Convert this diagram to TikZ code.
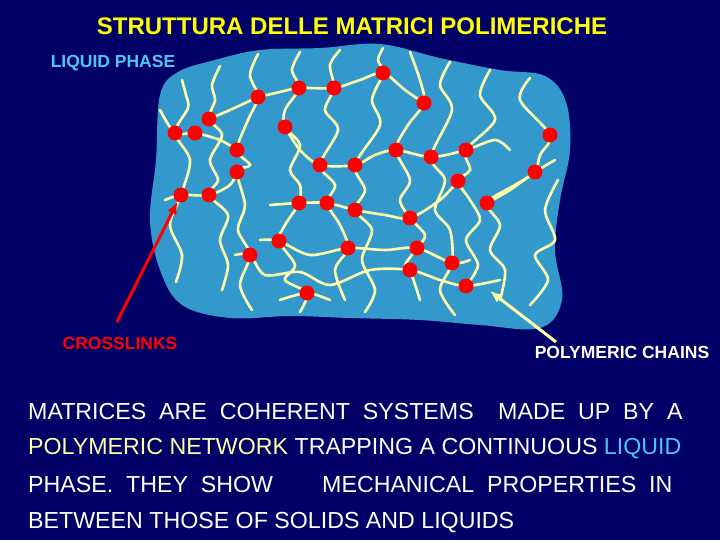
\documentclass[tikz,border=0pt]{standalone}
\usepackage{fontspec}
\usetikzlibrary{arrows.meta}
\setmainfont{Liberation Sans}
\begin{document}
\begin{tikzpicture}[x=1pt,y=-1pt,
  chain/.style={draw={rgb,255:red,255;green,255;blue,170},line width=2.6pt,line cap=round},
  xl/.style={circle,fill=red,inner sep=0pt,minimum size=15pt},
  body/.style={text=white,font=\fontsize{23.2}{25}\selectfont,anchor=base west,inner sep=0pt}]
\definecolor{bg}{RGB}{0,0,102}
\definecolor{blob}{RGB}{51,153,204}
\definecolor{cream}{RGB}{255,255,170}
\fill[bg] (0,0) rectangle (720,540);
\useasboundingbox (0,0) rectangle (720,540);
\node[text={rgb,255:red,255;green,255;blue,0},font=\bfseries\fontsize{24}{26}\selectfont] (title) at (352,26) {STRUTTURA DELLE MATRICI POLIMERICHE};
\node[text=cyan!70!white,font=\bfseries\fontsize{17.5}{19}\selectfont] (lp) at (113,63) {LIQUID PHASE};
\fill[blob] plot[smooth cycle,tension=0.6] coordinates {(160,95)(178,72)(215,60)(260,50)(320,48)(380,44)(440,58)(500,70)(545,76)(566,102)(570,150)(560,200)(555,250)(562,300)(540,328)(480,325)(420,320)(350,318)(290,316)(230,318)(182,305)(160,270)(150,220)(156,160)};
\begin{scope}[chain]
\draw plot[smooth] coordinates {(182,80)(186,95)(188,108)(175,133)(190,160)(181,195)(170,225)(182,255)(176,282)};
\draw plot[smooth] coordinates {(220,66)(212,85)(215,100)(209,119)(222,135)(210,160)(218,180)(209,195)(228,215)(220,240)(228,265)(222,290)};
\draw plot[smooth] coordinates {(258,54)(250,75)(258,97)(248,120)(237,150)(250,165)(237,172)(245,205)(238,230)(250,255)(240,285)(252,310)};
\draw plot[smooth] coordinates {(300,52)(292,70)(299,88)(285,110)(285,127)(300,145)(290,170)(300,185)(299,203)(285,225)(279,241)(295,265)(285,280)(307,293)(300,312)};
\draw plot[smooth] coordinates {(340,50)(330,65)(334,88)(325,110)(338,130)(320,165)(335,185)(327,203)(340,225)(348,248)(335,270)(345,300)};
\draw plot[smooth] coordinates {(383,48)(378,60)(383,73)(372,100)(380,125)(355,165)(365,190)(355,210)(372,230)(362,260)(375,290)(365,312)};
\draw plot[smooth] coordinates {(410,52)(420,80)(424,103)(408,125)(396,150)(410,180)(400,200)(410,218)(425,235)(417,248)(405,265)(410,270)(420,300)};
\draw plot[smooth] coordinates {(450,62)(440,85)(452,110)(431,157)(445,180)(435,210)(450,230)(452,263)(440,290)(455,315)};
\draw plot[smooth] coordinates {(490,70)(480,95)(495,120)(466,150)(470,170)(458,181)(470,200)(480,220)(466,240)(478,265)(466,286)};
\draw plot[smooth] coordinates {(530,78)(520,100)(550,135)(540,155)(535,172)(515,185)(487,203)(500,225)(490,250)(505,270)(500,300)};
\draw plot[smooth] coordinates {(558,180)(545,210)(555,240)(535,255)(548,280)(530,305)};
\draw plot[smooth] coordinates {(160,110)(175,133)(195,133)(220,140)(237,150)};
\draw plot[smooth] coordinates {(165,200)(181,195)(209,195)(230,185)(237,172)};
\draw plot[smooth] coordinates {(258,97)(280,92)(299,88)(334,88)(360,80)(383,73)(405,90)(424,103)};
\draw plot[smooth] coordinates {(285,127)(300,150)(320,165)(355,165)(375,155)(396,150)(431,157)(466,150)(495,140)(510,150)};
\draw plot[smooth] coordinates {(270,205)(299,203)(327,203)(355,210)(385,215)(410,218)(440,200)(458,181)};
\draw plot[smooth] coordinates {(260,240)(279,241)(310,255)(348,248)(385,250)(417,248)(452,263)(470,260)};
\draw plot[smooth] coordinates {(235,255)(250,255)(265,275)(300,272)(330,285)(370,270)(410,270)(440,280)(466,286)(500,280)};
\draw plot[smooth] coordinates {(209,119)(230,110)(258,97)};
\draw plot[smooth] coordinates {(487,203)(510,190)(535,172)(555,160)};
\draw plot[smooth] coordinates {(280,300)(307,293)(330,300)};
\end{scope}
\foreach \p [count=\i] in {(383,73),(299,88),(334,88),(258,97),(424,103),(209,119),(175,133),(195,133),(285,127),(237,150),(550,135),(396,150),(431,157),(466,150),(237,172),(320,165),(355,165),(535,172),(458,181),(181,195),(209,195),(299,203),(327,203),(355,210),(487,203),(410,218),(279,241),(348,248),(417,248),(452,263),(250,255),(410,270),(466,286),(307,293)}
  \node[xl] (d\i) at \p {};
\node[text=red,font=\bfseries\fontsize{17.5}{19}\selectfont] (cl) at (120,343) {CROSSLINKS};
\node[text=white,font=\bfseries\fontsize{17.5}{19}\selectfont] (pc) at (622,352) {POLYMERIC CHAINS};
\coordinate (ra) at (117,322);
\coordinate (ca) at (556,342);
\coordinate (ct) at (490,291);
\draw[red,line width=3pt,-{Latex[length=12pt,width=10pt]}] (ra) -- (d20);
\draw[cream,line width=3pt,-{Latex[length=12pt,width=10pt]}] (ca) -- (ct);
\node[body] (l1a) at (28,419) {MATRICES\ \ ARE\ \ COHERENT\ \ SYSTEMS};
\node[body] (l1b) at (498,419) {MADE\ \ UP\ \ BY\ \ A};
\node[body] (l2a) at (28,454) {\textcolor{cream}{POLYMERIC NETWORK}\ TRAPPING A CONTINUOUS \textcolor{cyan!70!white}{LIQUID}};
\node[body] (l3a) at (28,492) {PHASE.\ \ THEY\ \ SHOW};
\node[body] (l3b) at (322,492) {MECHANICAL\ \ PROPERTIES\ \ IN};
\node[body] (l4) at (28,528) {BETWEEN THOSE OF SOLIDS AND LIQUIDS};
\end{tikzpicture}
\end{document}
